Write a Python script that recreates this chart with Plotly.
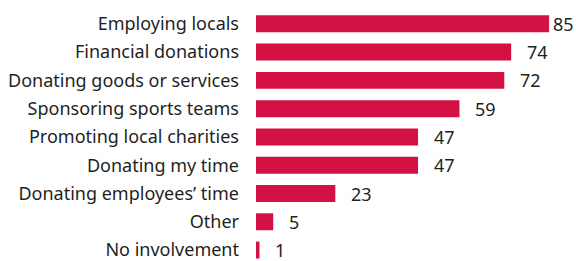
import plotly.graph_objects as go

categories = ["Employing locals", "Financial donations", "Donating goods or services",
              "Sponsoring sports teams", "Promoting local charities", "Donating my time",
              "Donating employees’ time", "Other", "No involvement"]
values = [85, 74, 72, 59, 47, 47, 23, 5, 1]

BAR = "#D31145"
TXT = "#1f1f1f"
FONT = "Noto Sans"
FS = 18

fig = go.Figure(go.Bar(
    y=categories, x=values, orientation="h",
    marker=dict(color=BAR, line=dict(width=0)),
    width=0.6, hoverinfo="skip",
))

xmax = 92.8
for c, v in zip(categories, values):
    if v > 80:
        fig.add_annotation(x=1, xref="paper", y=c, text=str(v), showarrow=False,
                           xanchor="right", font=dict(size=FS, color=TXT, family=FONT))
    else:
        fig.add_annotation(x=v, y=c, text=str(v), showarrow=False, xanchor="left",
                           xshift=14, font=dict(size=FS, color=TXT, family=FONT))

fig.update_layout(
    width=576, height=261,
    margin=dict(l=256, r=0, t=0, b=0),
    paper_bgcolor="white", plot_bgcolor="white",
    showlegend=False,
    font=dict(family=FONT, size=FS, color=TXT),
    xaxis=dict(range=[0, xmax], visible=False, fixedrange=True),
    yaxis=dict(categoryorder="array", categoryarray=categories,
               range=[8.316, -0.842], showgrid=False, zeroline=False, showline=False,
               ticks="", ticklabelstandoff=16, fixedrange=True,
               tickfont=dict(family=FONT, size=FS, color=TXT)),
)

fig.write_html("out.html", config={"displayModeBar": False},
               post_script="document.body.style.margin='0';document.body.style.overflow='hidden';")
